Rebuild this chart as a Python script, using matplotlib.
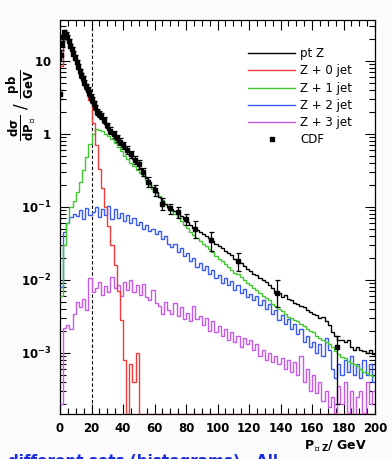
import numpy as np
import matplotlib
matplotlib.use("Agg")
import matplotlib.pyplot as plt
from matplotlib.lines import Line2D
from matplotlib.ticker import FixedLocator, FixedFormatter, LogLocator, MultipleLocator, NullFormatter

# ---------------- data ----------------
bin_edges = np.arange(0, 202, 2)  # 2 GeV bins, 0..200

pt_z = [16, 24, 20, 15.5, 12, 9.2, 7.0, 5.4, 4.4, 3.5,
        2.8, 2.2, 1.85, 1.6, 1.35, 1.12, 1.0, 0.9, 0.8, 0.72,
        0.64, 0.57, 0.5, 0.45, 0.4, 0.34, 0.3, 0.25, 0.215, 0.185,
        0.16, 0.135, 0.118, 0.108, 0.1, 0.093, 0.088, 0.082, 0.074, 0.068,
        0.062, 0.056, 0.051, 0.048, 0.045, 0.042, 0.04, 0.037, 0.034, 0.031,
        0.029, 0.027, 0.025, 0.023, 0.022, 0.019, 0.018, 0.017, 0.0155, 0.014,
        0.013, 0.012, 0.0115, 0.0105, 0.0098, 0.0092, 0.0085, 0.0077, 0.0066, 0.0065,
        0.0058, 0.0062, 0.0055, 0.0053, 0.0048, 0.0046, 0.0043, 0.0042, 0.0038, 0.0036,
        0.0034, 0.0033, 0.003, 0.0031, 0.0027, 0.0024, 0.0019, 0.0017, 0.0015, 0.0015,
        0.0014, 0.0015, 0.0012, 0.0011, 0.0012, 0.0011, 0.00105, 0.001, 0.0011, 0.00095]

z_0jet = [8.5, 20, 19.5, 15, 11.5, 8.8, 6.6, 5.0, 3.9, 2.9,
          1.4, 0.7, 0.33, 0.18, 0.1, 0.055, 0.03, 0.016, 0.007, 0.0028,
          0.0008, 0.0, 0.0007, 0.0004, 0.001, 0, 0, 0, 0, 0,
          0, 0, 0, 0, 0, 0, 0, 0, 0, 0,
          0, 0, 0, 0, 0, 0, 0, 0, 0, 0,
          0, 0, 0, 0, 0, 0, 0, 0, 0, 0,
          0, 0, 0, 0, 0, 0, 0, 0, 0, 0,
          0, 0, 0, 0, 0, 0, 0, 0, 0, 0,
          0, 0, 0, 0, 0, 0, 0, 0, 0, 0,
          0, 0, 0, 0, 0, 0, 0, 0, 0, 0]

z_1jet = [0.006, 0.03, 0.06, 0.1, 0.12, 0.16, 0.22, 0.32, 0.48, 0.72,
          1.0, 1.15, 1.12, 1.08, 1.0, 0.92, 0.84, 0.74, 0.66, 0.58,
          0.5, 0.45, 0.4, 0.36, 0.32, 0.29, 0.26, 0.23, 0.2, 0.175,
          0.155, 0.14, 0.125, 0.11, 0.097, 0.087, 0.079, 0.072, 0.064, 0.057,
          0.051, 0.045, 0.041, 0.037, 0.034, 0.031, 0.029, 0.026, 0.024, 0.021,
          0.0195, 0.018, 0.0165, 0.015, 0.0138, 0.0125, 0.0118, 0.0108, 0.0098, 0.009,
          0.0085, 0.0078, 0.0072, 0.0066, 0.006, 0.0056, 0.0052, 0.0046, 0.0043, 0.004,
          0.0037, 0.0034, 0.0031, 0.003, 0.0028, 0.0027, 0.0025, 0.0023, 0.0021, 0.002,
          0.0019, 0.0017, 0.0016, 0.0015, 0.0014, 0.0013, 0.0012, 0.00105, 0.00095, 0.00088,
          0.00085, 0.00078, 0.00072, 0.0007, 0.00065, 0.0006, 0.00055, 0.00052, 0.0005, 0.00048]

z_2jet = [0.008, 0.045, 0.06, 0.072, 0.08, 0.074, 0.09, 0.068, 0.095, 0.078,
          0.085, 0.1, 0.072, 0.092, 0.076, 0.102, 0.068, 0.094, 0.07, 0.082,
          0.064, 0.078, 0.06, 0.07, 0.056, 0.062, 0.05, 0.056, 0.046, 0.05,
          0.042, 0.046, 0.036, 0.04, 0.031, 0.028, 0.031, 0.024, 0.027, 0.021,
          0.023, 0.018, 0.02, 0.015, 0.017, 0.0135, 0.0155, 0.012, 0.0135, 0.0105,
          0.0115, 0.009, 0.0105, 0.0085, 0.0095, 0.0072, 0.0085, 0.0065, 0.0075, 0.0058,
          0.0064, 0.0052, 0.006, 0.0045, 0.0052, 0.004, 0.0046, 0.0034, 0.0039, 0.0028,
          0.0033, 0.0025, 0.0029, 0.0021, 0.0025, 0.0018, 0.0021, 0.0014, 0.0017, 0.0012,
          0.0014, 0.001, 0.0013, 0.0009, 0.0016, 0.0011, 0.0006, 0.00045, 0.0007, 0.0005,
          0.0008, 0.00055, 0.0009, 0.0005, 0.0007, 0.00045, 0.0008, 0.0005, 0.0007, 0.0004]

z_3jet = [0.0002, 0.0022, 0.0024, 0.0021, 0.0034, 0.005, 0.0042, 0.0055, 0.0038, 0.0105,
          0.0068, 0.0078, 0.0092, 0.0062, 0.0082, 0.0068, 0.011, 0.0078, 0.0085, 0.006,
          0.0092, 0.0072, 0.0098, 0.0068, 0.0085, 0.0062, 0.0088, 0.0058, 0.0052, 0.0072,
          0.0048, 0.0044, 0.0034, 0.005, 0.0038, 0.0034, 0.0048, 0.0032, 0.0042, 0.0029,
          0.0035, 0.0027, 0.0044, 0.0029, 0.0032, 0.0024, 0.003, 0.002, 0.0027, 0.0019,
          0.0023, 0.0017, 0.0021, 0.0015, 0.0019, 0.0014, 0.0017, 0.0012, 0.0016, 0.0013,
          0.0015, 0.0011, 0.0013, 0.0009, 0.0011, 0.0008, 0.001, 0.00075, 0.0009, 0.0007,
          0.00085, 0.0006, 0.0008, 0.00055, 0.00075, 0.0005, 0.0009, 0.0004, 0.0006, 0.0003,
          0.0005, 0.00028, 0.0004, 0.00022, 0.0003, 0.00018, 0.00025, 0.00015, 0.00035, 0.0002,
          0.0004, 0.00015, 0.0003, 0.0, 0.00025, 0.0003, 0.00015, 0.0004, 0.0002, 0.0003]

cdf_x = [0.25, 0.75, 1.25, 1.75, 2.5, 3.5, 4.5, 5.5, 6.5, 7.5, 8.5, 9.5, 10.5, 11.5,
         12.5, 13.5, 14.5, 15.5, 16.5, 17.5, 18.5, 19.5, 20.5, 21.5, 22.5, 23.5, 24.5,
         26, 28, 30, 32, 34, 36, 38, 40, 42.5, 45, 47.5, 50, 53, 56, 60, 65, 70, 75,
         80, 86, 96, 113, 138, 176]
cdf_y = [3.5, 12, 17, 21, 25, 23, 21, 18.5, 16, 14.5, 12.5, 11, 9.6, 8.3,
         7.2, 6.3, 5.7, 5.0, 4.5, 4.0, 3.6, 3.2, 2.9, 2.6, 2.3, 2.0, 1.85,
         1.75, 1.55, 1.3, 1.1, 0.98, 0.86, 0.78, 0.7, 0.6, 0.52, 0.44, 0.38, 0.3, 0.22,
         0.17, 0.11, 0.095, 0.085, 0.068, 0.05, 0.035, 0.018, 0.0065, 0.0012]
cdf_err_lo = [0.5, 2, 1.5, 1.5, 1.5, 1.5, 1.2, 1.1, 1.0, 1.0, 0.9, 0.8, 0.7, 0.6,
              0.5, 0.5, 0.45, 0.4, 0.35, 0.3, 0.3, 0.28, 0.25, 0.22, 0.2, 0.2, 0.18,
              0.15, 0.14, 0.12, 0.12, 0.1, 0.09, 0.08, 0.08, 0.07, 0.06, 0.06, 0.05, 0.04, 0.035,
              0.03, 0.02, 0.015, 0.015, 0.012, 0.013, 0.01, 0.005, 0.0023, 0.001]
cdf_err_hi = [0.5, 2, 1.5, 1.5, 1.5, 1.5, 1.2, 1.1, 1.0, 1.0, 0.9, 0.8, 0.7, 0.6,
              0.5, 0.5, 0.45, 0.4, 0.35, 0.3, 0.3, 0.28, 0.25, 0.22, 0.2, 0.2, 0.18,
              0.15, 0.14, 0.12, 0.12, 0.1, 0.09, 0.08, 0.08, 0.07, 0.06, 0.06, 0.05, 0.04, 0.035,
              0.03, 0.02, 0.015, 0.015, 0.012, 0.013, 0.01, 0.005, 0.0035, 0.0005]

series_labels = ["pt Z", "Z + 0 jet", "Z + 1 jet", "Z + 2 jet", "Z + 3 jet"]
data_label = "CDF"
xtick_values = [0, 20, 40, 60, 80, 100, 120, 140, 160, 180, 200]
ytick_values = [1e-3, 1e-2, 1e-1, 1, 10]
ytick_labels = [r"$\mathbf{10^{-3}}$", r"$\mathbf{10^{-2}}$", r"$\mathbf{10^{-1}}$",
                r"$\mathbf{1}$", r"$\mathbf{10}$"]
jet_cut = 20
caption_fragment = "different sets (histograms).  All"

# ---------------- style ----------------
plt.rcParams["font.family"] = ["DejaVu Sans"]
plt.rcParams["mathtext.fontset"] = "dejavusans"

colors = ["#000000", "#f03a3a", "#3ec82e", "#3a5af0", "#c65ae6"]
YMIN, YMAX = 1.45e-4, 36

fig = plt.figure(figsize=(3.92, 4.59), dpi=100, facecolor="#fbfbfb")
ax = fig.add_axes([60/392, 1-414/459, 315/392, 394/459])
ax.set_facecolor("white")
ax.set_yscale("log")
ax.set_xlim(0, 200)
ax.set_ylim(YMIN, YMAX)

all_series = [pt_z, z_0jet, z_1jet, z_2jet, z_3jet]
order = [4, 3, 2, 1, 0]
for i in order:
    vals = np.maximum(np.asarray(all_series[i], dtype=float), YMIN)
    ax.stairs(vals, bin_edges, color=colors[i], lw=1.0, zorder=3 + (4 - i) * 0.1,
              baseline=None)

ax.errorbar(cdf_x, cdf_y, yerr=[cdf_err_lo, cdf_err_hi], fmt="s", color="black",
            ms=2.4, elinewidth=0.9, capsize=1.8, capthick=0.9, zorder=5)

ax.axvline(jet_cut, color="black", lw=0.8, ls=(0, (3, 2)), zorder=2)

# ticks
ax.xaxis.set_major_locator(FixedLocator(xtick_values))
ax.xaxis.set_minor_locator(MultipleLocator(5))
ax.yaxis.set_major_locator(FixedLocator(ytick_values))
ax.yaxis.set_major_formatter(FixedFormatter(ytick_labels))
ax.yaxis.set_minor_locator(LogLocator(base=10, subs=np.arange(2, 10)))
ax.yaxis.set_minor_formatter(NullFormatter())
ax.tick_params(which="both", direction="in", top=True, right=True, width=0.8)
ax.tick_params(which="major", length=7, labelsize=8.5, pad=6)
ax.tick_params(which="minor", length=4)
for lab in ax.get_xticklabels():
    lab.set_fontweight("bold")
for sp in ax.spines.values():
    sp.set_linewidth(0.9)

# legend
handles = [Line2D([], [], color=c, lw=1.0) for c in colors]
handles.append(Line2D([], [], color="black", marker="s", ls="none", ms=2.4))
leg = ax.legend(handles, series_labels + [data_label], loc="upper left",
                bbox_to_anchor=(0.597, 0.931), frameon=False, fontsize=8.5,
                handlelength=4.0, handletextpad=0.42, labelspacing=0.36,
                borderpad=0, borderaxespad=0)

# axis titles
fig.text(22/392, 1-105/459,
         r"$\mathbf{\frac{d\sigma}{dP_{\perp}}}$ / $\mathbf{\frac{pb}{GeV}}$",
         rotation=90, ha="center", va="center", fontsize=12)
fig.text(367/392, 1-449/459, r"$\mathbf{P_{\perp Z}}$/ GeV", ha="right",
         va="baseline", fontsize=9, fontweight="bold")

# fragment of slide text cut by the bottom edge (as in the reference crop)
fig.text(8/392, 1-466/459, caption_fragment,
         color="#1a2ee0", fontsize=11, fontweight="bold", ha="left", va="baseline")

fig.savefig("out.png", dpi=100, facecolor=fig.get_facecolor())
